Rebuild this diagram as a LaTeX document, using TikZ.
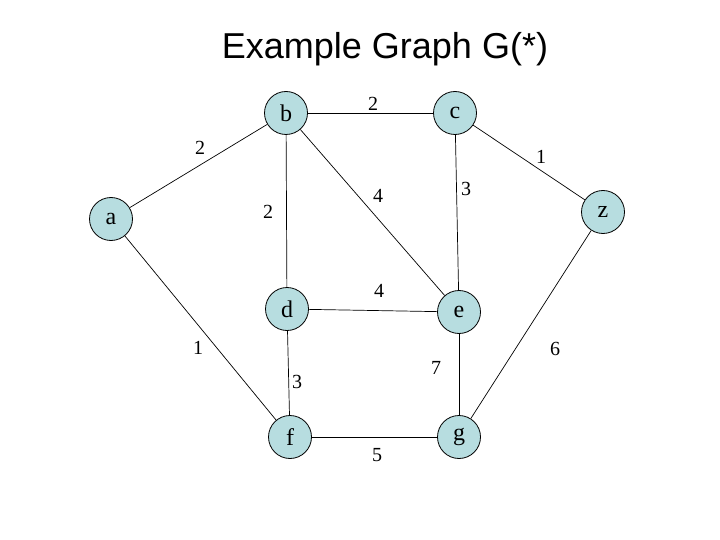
\documentclass[tikz,border=0pt]{standalone}
\usepackage{fontspec}
\setmainfont{Liberation Serif}
\newfontfamily\titlefont{Liberation Sans}
\usepackage{tikz}
\definecolor{vertexblue}{RGB}{183,221,224}

\begin{document}
\begin{tikzpicture}[x=1pt, y=-1pt,
    vertex/.style={circle, draw, line width=0.8pt, fill=vertexblue, minimum size=43pt, inner sep=0pt, font=\fontsize{24}{28}\selectfont},
    weight/.style={inner sep=0pt, font=\fontsize{20}{24}\selectfont},
    edge/.style={line width=0.7pt}]
  \useasboundingbox (0,0) rectangle (720,540);
  \node[font=\titlefont\fontsize{36}{40}\selectfont] (title) at (385,49) {Example Graph G(*)};
  % vertices
  \node[vertex] (a) at (111,219) {a};
  \node[vertex] (b) at (286,113) {b};
  \node[vertex] (c) at (455,113) {c};
  \node[vertex] (d) at (287,309) {d};
  \node[vertex] (e) at (459,312) {e};
  \node[vertex] (f) at (290,437) {f};
  \node[vertex] (g) at (459,437) {g};
  \node[vertex] (z) at (603,212) {z};
  % edges
  \draw[edge] (a) -- (b);
  \draw[edge] (b) -- (c);
  \draw[edge] (c) -- (z);
  \draw[edge] (b) -- (d);
  \draw[edge] (b) -- (e);
  \draw[edge] (c) -- (e);
  \draw[edge] (d) -- (e);
  \draw[edge] (a) -- (f);
  \draw[edge] (d) -- (f);
  \draw[edge] (e) -- (g);
  \draw[edge] (z) -- (g);
  \draw[edge] (f) -- (g);
  % weights
  \node[weight] (wab) at (200,148) {2};
  \node[weight] (wbc) at (373,104) {2};
  \node[weight] (wcz) at (541,157) {1};
  \node[weight] (wbd) at (268,212) {2};
  \node[weight] (wbe) at (378,196) {4};
  \node[weight] (wce) at (466,189) {3};
  \node[weight] (wde) at (379,291) {4};
  \node[weight] (waf) at (198,348) {1};
  \node[weight] (wdf) at (297,382) {3};
  \node[weight] (weg) at (436,368) {7};
  \node[weight] (wzg) at (555,349) {6};
  \node[weight] (wfg) at (377,455) {5};
\end{tikzpicture}
\end{document}
